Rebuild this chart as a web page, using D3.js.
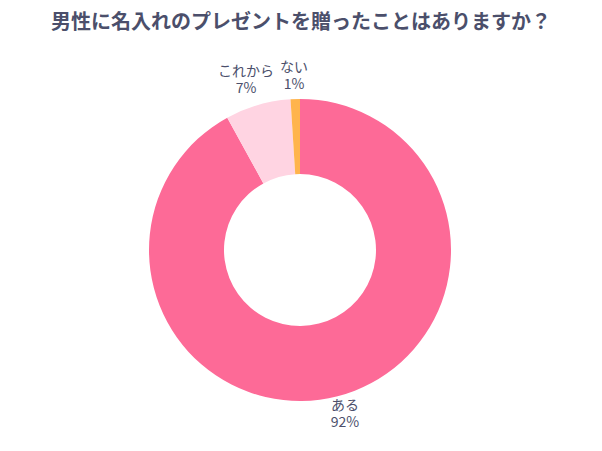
<!DOCTYPE html>
<html><head><meta charset="utf-8">
<script src="https://cdn.jsdelivr.net/npm/d3@7"></script>
<style>body{margin:0;background:#fff}</style>
</head><body>
<svg id="chart" width="602" height="451"></svg>
<script>
var labels = ["ある", "これから", "ない"];
var values = [92, 7, 1];
var colors = ["#fd6a97", "#ffd4e2", "#ffb44c"];
var labelPos = [[345, 410], [246, 76], [294, 72]];

var svg = d3.select("#chart");
var font = "'Noto Sans CJK JP', sans-serif";

svg.append("text")
    .attr("x", 301).attr("y", 29)
    .attr("text-anchor", "middle")
    .attr("font-family", font).attr("font-weight", "bold")
    .attr("font-size", 20).attr("fill", "#4b4f6b")
    .text("男性に名入れのプレゼントを贈ったことはありますか？");

var pie = d3.pie().sort(null)(values);
var arc = d3.arc().innerRadius(76).outerRadius(151);

var g = svg.append("g").attr("transform", "translate(300,250)");
g.selectAll("path").data(pie).enter().append("path")
    .attr("d", arc)
    .attr("fill", function (d, i) { return colors[i]; });

labels.forEach(function (l, i) {
    svg.append("text")
        .attr("x", labelPos[i][0]).attr("y", labelPos[i][1])
        .attr("text-anchor", "middle")
        .attr("font-family", font).attr("font-size", 14)
        .attr("fill", "#4b4f6b").text(l);
    svg.append("text")
        .attr("x", labelPos[i][0]).attr("y", labelPos[i][1] + 17)
        .attr("text-anchor", "middle")
        .attr("font-family", font).attr("font-size", 14)
        .attr("fill", "#4b4f6b").text(values[i] + "%");
});
</script>
</body></html>
